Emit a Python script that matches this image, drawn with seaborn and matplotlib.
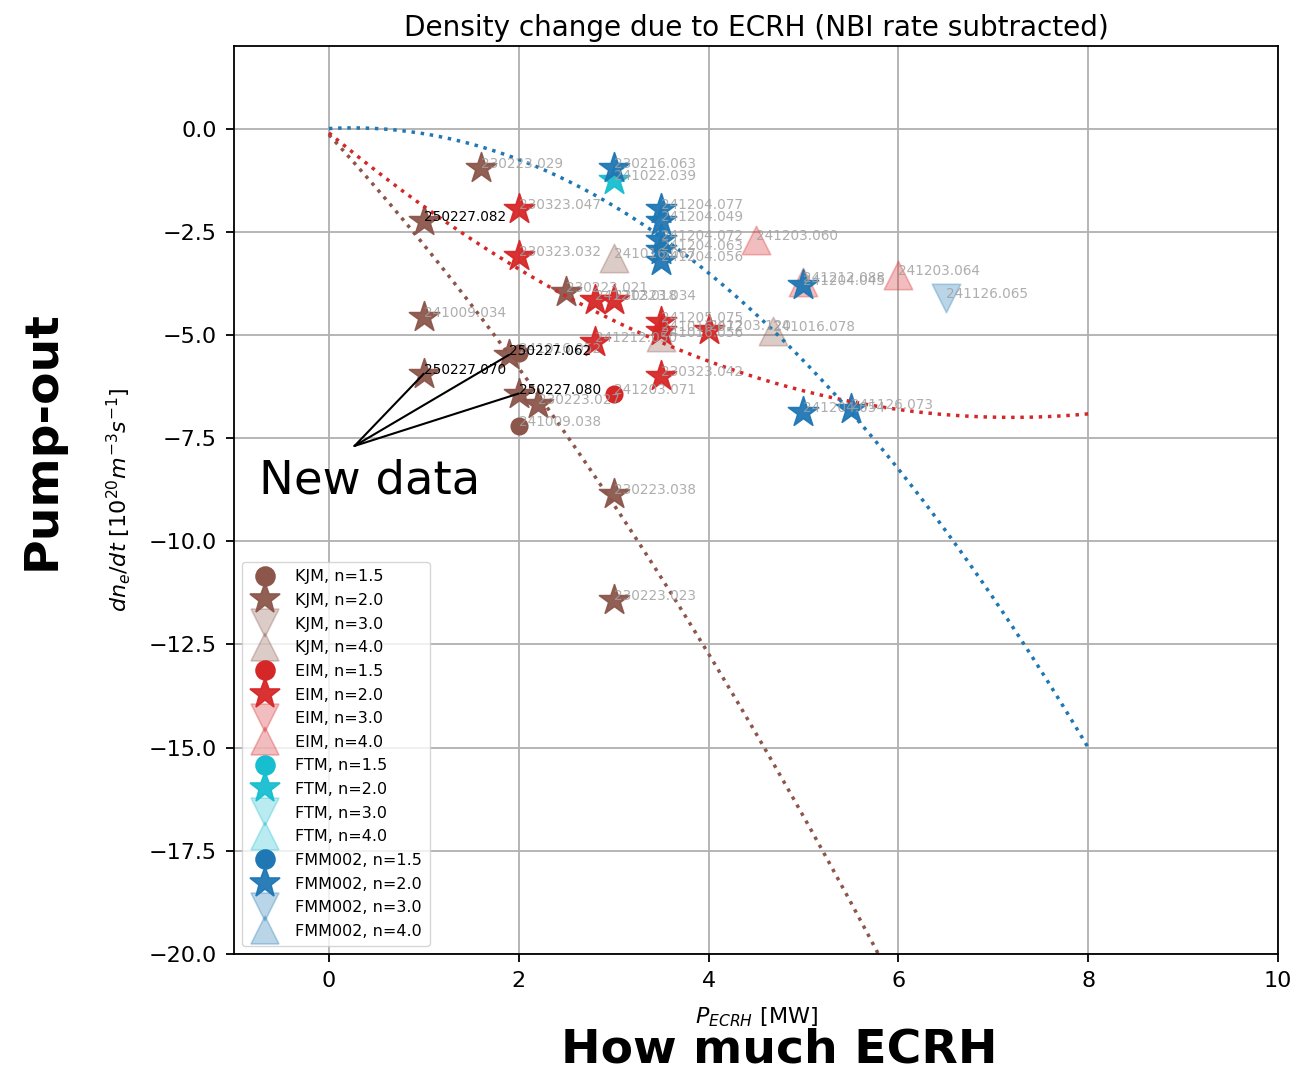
import numpy as np
import pandas as pd
import matplotlib
matplotlib.use("Agg")
import matplotlib.pyplot as plt
from matplotlib.lines import Line2D
import seaborn as sns

# ---------------- data ----------------
models = ["KJM", "EIM", "FTM", "FMM002"]
model_colors = ["#8c564b", "#d62728", "#17becf", "#1f77b4"]
n_values = [1.5, 2.0, 3.0, 4.0]
n_markers = ["o", "*", "v", "^"]

# KJM
kjm_n15_x = [2.0, 2.0]
kjm_n15_y = [-5.45, -7.2]
kjm_n15_lab = ["241016.052", "241009.038"]
kjm_n20_x = [1.6, 1.0, 2.5, 1.0, 1.9, 1.0, 2.0, 2.2, 3.0, 3.0]
kjm_n20_y = [-0.95, -2.25, -3.95, -4.56, -5.48, -5.94, -6.42, -6.67, -8.85, -11.42]
kjm_n20_lab = ["230223.029", "250227.082", "230223.021", "241009.034", "250227.062",
               "250227.070", "250227.080", "230223.027", "230223.038", "230223.023"]
kjm_n40_x = [3.0, 3.5, 4.68]
kjm_n40_y = [-3.13, -5.05, -4.9]
kjm_n40_lab = ["241016.067", "241016.056", "241016.078"]

# EIM
eim_n15_x = [3.0]
eim_n15_y = [-6.42]
eim_n15_lab = ["241203.071"]
eim_n20_x = [2.0, 2.0, 2.8, 3.0, 3.5, 3.5, 4.0, 2.8, 3.5]
eim_n20_y = [-1.96, -3.1, -4.15, -4.15, -4.68, -4.9, -4.87, -5.16, -5.99]
eim_n20_lab = ["230323.047", "230323.032", "241212.018", "230323.034", "241205.075",
               "241016.072", "241203.120", "241212.050", "230323.042"]
eim_n40_x = [4.5, 5.0, 6.0]
eim_n40_y = [-2.69, -3.71, -3.54]
eim_n40_lab = ["241203.060", "241212.088", "241203.064"]

# FTM
ftm_n20_x = [3.0]
ftm_n20_y = [-1.24]
ftm_n20_lab = ["241022.039"]

# FMM002
fmm_n20_x = [3.0, 3.5, 3.5, 3.5, 3.5, 3.5, 5.0, 5.0, 5.5]
fmm_n20_y = [-0.95, -1.96, -2.25, -2.69, -2.95, -3.2, -3.78, -6.86, -6.8]
fmm_n20_lab = ["230216.063", "241204.077", "241204.049", "241204.072", "241204.063",
               "241204.056", "241204.045", "241204.054", "241126.073"]
fmm_n30_x = [6.5]
fmm_n30_y = [-4.1]
fmm_n30_lab = ["241126.065"]

# fit curves (polynomial coefficients, highest power first) and their x range
fit_kjm_coef = [-0.159, -2.508, -0.15]
fit_eim_coef = [0.133, -1.915, -0.105]
fit_fmm_coef = [-0.25, 0.125, 0.0]
fit_x_range = [0.0, 8.0]

new_data_origin = [0.27, -7.69]
new_data_targets = ["250227.070", "250227.062", "250227.080"]

groups = {
    ("KJM", 1.5): (kjm_n15_x, kjm_n15_y, kjm_n15_lab),
    ("KJM", 2.0): (kjm_n20_x, kjm_n20_y, kjm_n20_lab),
    ("KJM", 4.0): (kjm_n40_x, kjm_n40_y, kjm_n40_lab),
    ("EIM", 1.5): (eim_n15_x, eim_n15_y, eim_n15_lab),
    ("EIM", 2.0): (eim_n20_x, eim_n20_y, eim_n20_lab),
    ("EIM", 4.0): (eim_n40_x, eim_n40_y, eim_n40_lab),
    ("FTM", 2.0): (ftm_n20_x, ftm_n20_y, ftm_n20_lab),
    ("FMM002", 2.0): (fmm_n20_x, fmm_n20_y, fmm_n20_lab),
    ("FMM002", 3.0): (fmm_n30_x, fmm_n30_y, fmm_n30_lab),
}

# ---------------- plot ----------------
fig = plt.figure(figsize=(12.99, 10.71), dpi=100)
ax = fig.add_axes([234 / 1299, 1 - 954 / 1071, (1278 - 234) / 1299, (954 - 46) / 1071])

sizes = {1.5: 140, 2.0: 520, 3.0: 420, 4.0: 420}
alphas = {1.5: 1.0, 2.0: 0.95, 3.0: 0.3, 4.0: 0.3}

handles = []
labels_leg = []
allpts = {}
for m, col in zip(models, model_colors):
    for n, mk in zip(n_values, n_markers):
        if (m, n) in groups:
            xs, ys, labs = groups[(m, n)]
            sns.scatterplot(x=xs, y=ys, marker=mk, s=sizes[n], color=col,
                            alpha=alphas[n], edgecolor=col, linewidth=1.2,
                            ax=ax, legend=False, zorder=1)
            for xx, yy, ll in zip(xs, ys, labs):
                allpts[ll] = (xx, yy)
                new = ll.startswith("250227")
                ax.text(xx, yy, ll, fontsize=9.8,
                        color="black" if new else "#a0a0a0",
                        alpha=1.0 if new else 0.85, zorder=3)
        h = Line2D([], [], marker=mk, linestyle="None", color=col,
                   markeredgecolor=col, markeredgewidth=1.2,
                   markersize=np.sqrt(sizes[n]) * (1.15 if n == 1.5 else 1.0),
                   alpha=alphas[n])
        handles.append(h)
        labels_leg.append(f"{m}, n={n}")

xfit = np.linspace(fit_x_range[0], fit_x_range[1], 200)
for coef, col in [(fit_kjm_coef, model_colors[0]), (fit_eim_coef, model_colors[1]),
                  (fit_fmm_coef, model_colors[3])]:
    sns.lineplot(x=xfit, y=np.polyval(coef, xfit), color=col, linestyle=":",
                 linewidth=2.5, sort=False, estimator=None, ax=ax, zorder=2)

ax.set_xlim(-1, 10)
ax.set_ylim(-20, 2)
ax.set_xticks([0, 2, 4, 6, 8, 10])
ax.set_yticks([0, -2.5, -5, -7.5, -10, -12.5, -15, -17.5, -20])
ax.grid(True, color="#b0b0b0", linewidth=1.3)
ax.set_axisbelow(True)
for s in ax.spines.values():
    s.set_linewidth(1.3)
ax.tick_params(labelsize=16, length=5.5, width=1.3, pad=7)
ax.set_title("Density change due to ECRH (NBI rate subtracted)", fontsize=20.1, pad=7)
ax.set_xlabel("$P_{ECRH}$ [MW]", fontsize=16, labelpad=10)
ax.set_ylabel("$dn_e/dt$ [$10^{20}m^{-3}s^{-1}$]", fontsize=16, labelpad=11)

leg = ax.legend(handles, labels_leg, loc="lower left", fontsize=11.5,
                labelspacing=0.54, handletextpad=0.9, borderpad=0.45,
                framealpha=0.8)

# New data annotation
for t in new_data_targets:
    ax.annotate("", xy=allpts[t], xytext=new_data_origin,
                arrowprops=dict(arrowstyle="-", color="black", lw=1.5,
                                shrinkA=0, shrinkB=0))
ax.text(-0.74, -8.85, "New data", fontsize=33.5, color="black", zorder=5)

fig.text(42 / 1299, 1 - 440 / 1071, "Pump-out", rotation=90, fontsize=34,
         fontweight="bold", ha="center", va="center")
fig.text(779 / 1299, 1 - 1050 / 1071, "How much ECRH", fontsize=34,
         fontweight="bold", ha="center", va="center")

fig.savefig("out.png", dpi=100)
